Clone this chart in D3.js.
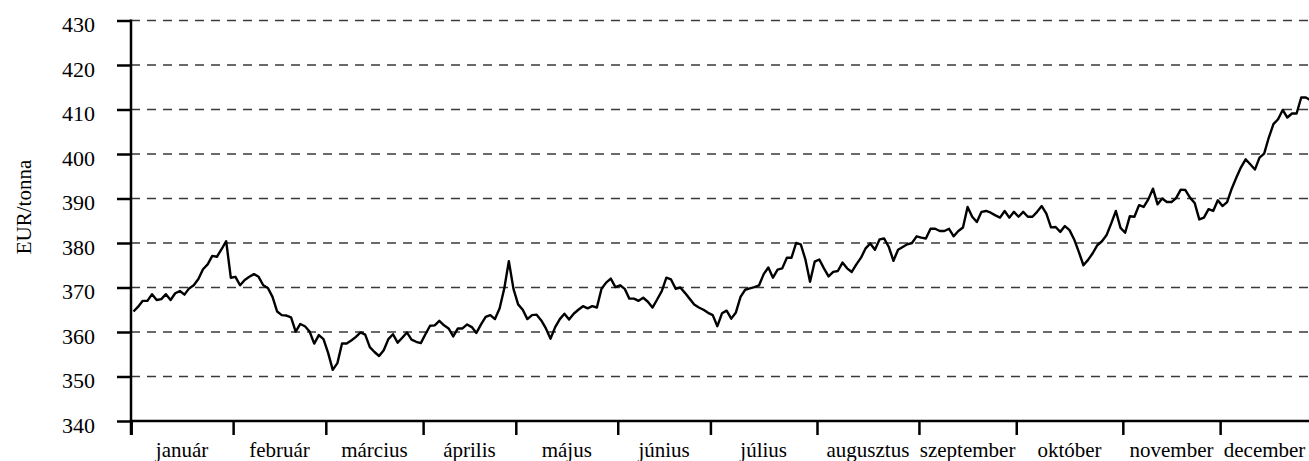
<!DOCTYPE html>
<html>
<head>
<meta charset="utf-8">
<script src="https://cdn.jsdelivr.net/npm/d3@7"></script>
<style>
  html, body { margin: 0; padding: 0; background: #fff; }
  svg { display: block; }
</style>
</head>
<body>
<svg id="chart" width="1309" height="461"></svg>
<script>
const months = ["január","február","március","április","május","június","július","augusztus","szeptember","október","november","december"];
const monthDays = [22, 20, 21, 20, 22, 20, 23, 22, 21, 23, 21, 20];
const yTicks = [340, 350, 360, 370, 380, 390, 400, 410, 420, 430];
const yTitle = "EUR/tonna";
const prices = [
  364.6, 365.7, 367.0, 367.0, 368.5, 367.2, 367.4, 368.5, 367.2, 368.7,
  369.2, 368.4, 369.8, 370.5, 371.9, 374.1, 375.2, 377.1, 376.9, 378.6,
  380.4, 372.2, 372.4, 370.5, 371.7, 372.4, 373.0, 372.4, 370.5, 369.9,
  367.9, 364.6, 363.8, 363.7, 363.3, 360.1, 361.8, 361.3, 360.1, 357.4,
  359.3, 358.4, 355.3, 351.5, 353.0, 357.4, 357.4, 358.1, 358.9, 359.9,
  359.4, 356.6, 355.5, 354.6, 355.9, 358.4, 359.5, 357.6, 358.7, 359.9,
  358.3, 357.8, 357.5, 359.5, 361.4, 361.5, 362.5, 361.5, 360.8, 359.0,
  360.8, 360.8, 361.7, 361.1, 359.8, 361.7, 363.4, 363.8, 362.9, 365.3,
  369.7, 375.9, 369.7, 366.2, 365.0, 362.9, 363.8, 363.9, 362.6, 360.8,
  358.5, 361.1, 362.9, 364.1, 362.8, 364.1, 365.0, 365.8, 365.3, 365.8,
  365.5, 369.7, 371.1, 372.0, 370.1, 370.5, 369.7, 367.5, 367.5, 367.0,
  367.7, 366.8, 365.5, 367.3, 369.2, 372.2, 371.8, 369.7, 370.0, 368.8,
  367.5, 366.2, 365.5, 365.0, 364.3, 363.8, 361.3, 364.2, 364.8, 363.0,
  364.4, 367.9, 369.5, 369.8, 370.1, 370.5, 373.0, 374.5, 372.2, 374.0,
  374.3, 376.7, 376.7, 380.0, 379.7, 376.3, 371.3, 375.8, 376.3, 374.3,
  372.5, 373.5, 373.7, 375.6, 374.3, 373.5, 375.2, 376.7, 378.8, 379.9,
  378.5, 380.8, 381.0, 379.1, 376.0, 378.5, 379.1, 379.7, 380.0, 381.5,
  381.2, 381.0, 383.2, 383.2, 382.7, 382.7, 383.2, 381.5, 382.7, 383.5,
  388.1, 385.9, 384.7, 387.0, 387.2, 386.8, 386.2, 385.7, 387.2, 385.7,
  387.0, 385.9, 387.0, 385.9, 385.9, 387.0, 388.3, 386.6, 383.5, 383.6,
  382.5, 383.8, 382.9, 380.8, 378.0, 375.0, 376.2, 377.7, 379.5, 380.4,
  381.8, 384.4, 387.2, 383.4, 382.3, 386.0, 385.9, 388.5, 388.1, 389.8,
  392.2, 388.7, 390.0, 389.2, 389.2, 390.1, 392.0, 391.9, 390.2, 389.0,
  385.3, 385.7, 387.6, 387.2, 389.6, 388.3, 389.2, 392.2, 394.7, 397.0,
  398.8, 397.7, 396.5, 399.2, 400.1, 403.7, 406.7, 407.8, 409.9, 408.2,
  409.1, 409.1, 412.7, 412.7, 412.1
];

const FONT = '"Liberation Serif"';
const axisLeft = 131, axisRight = 1309;
const svg = d3.select("#chart");

const x = d3.scaleLinear().domain([0, prices.length - 1]).range([133.5, 1310.5]);
const y = d3.scaleLinear().domain([340, 430]).range([421, 20.5]);

// month boundaries (between trading days)
const cum = [0];
monthDays.forEach(d => cum.push(cum[cum.length - 1] + d));
const boundaries = cum.map(c => c - 0.5);

// gridlines
svg.append("g")
  .selectAll("line")
  .data(yTicks.filter(t => t !== 340))
  .join("line")
  .attr("x1", axisLeft).attr("x2", axisRight)
  .attr("y1", d => y(d)).attr("y2", d => y(d))
  .attr("stroke", "#3a3a3a")
  .attr("stroke-width", 1.3)
  .attr("stroke-dasharray", "9,7");

// y axis
const yAxis = d3.axisLeft(y).tickValues(yTicks).tickSize(14).tickPadding(22).tickFormat(d3.format("d"));
const gy = svg.append("g").attr("transform", `translate(${axisLeft},0)`).call(yAxis);
gy.attr("font-family", null).attr("font-size", null);
gy.select(".domain").remove();
gy.selectAll(".tick line").attr("stroke", "#000").attr("stroke-width", 2.5);
gy.selectAll(".tick text")
  .style("font-family", FONT)
  .style("font-size", "22px")
  .attr("fill", "#000")
  .attr("dy", "0.5em");

// x axis ticks at month boundaries
const xAxis = d3.axisBottom(x).tickValues(boundaries.slice(0, -1)).tickSize(14).tickFormat("");
const gx = svg.append("g").attr("transform", `translate(0,${y(340)})`).call(xAxis);
gx.select(".domain").remove();
gx.selectAll(".tick line").attr("stroke", "#000").attr("stroke-width", 2.5);

// axis lines
svg.append("line")
  .attr("x1", axisLeft).attr("x2", axisLeft)
  .attr("y1", y(430) - 1).attr("y2", y(340) + 14)
  .attr("stroke", "#000").attr("stroke-width", 2.5);
svg.append("line")
  .attr("x1", axisLeft).attr("x2", axisRight)
  .attr("y1", y(340)).attr("y2", y(340))
  .attr("stroke", "#000").attr("stroke-width", 2.5);

// month labels centred between boundaries
const edges = boundaries.map((b, i) => i === 0 ? axisLeft : Math.min(x(b), axisRight));
svg.append("g")
  .selectAll("text")
  .data(months)
  .join("text")
  .attr("x", (d, i) => (edges[i] + edges[i + 1]) / 2)
  .attr("y", 457)
  .attr("text-anchor", "middle")
  .style("font-family", FONT)
  .style("font-size", "21px")
  .text(d => d);

// y title
svg.append("text")
  .attr("transform", "translate(31,207) rotate(-90)")
  .attr("text-anchor", "middle")
  .style("font-family", FONT)
  .style("font-size", "21px")
  .text(yTitle);

// price line
const line = d3.line().x((d, i) => x(i)).y(d => y(d));
svg.append("path")
  .datum(prices)
  .attr("d", line)
  .attr("fill", "none")
  .attr("stroke", "#000")
  .attr("stroke-width", 2.4)
  .attr("stroke-linejoin", "round");
</script>
</body>
</html>
